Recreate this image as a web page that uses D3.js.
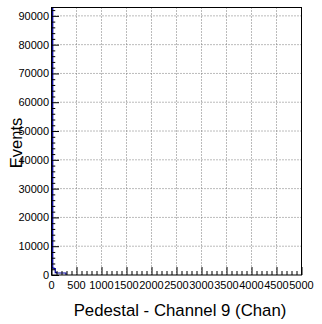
<!DOCTYPE html>
<html><head><meta charset="utf-8">
<script src="https://cdn.jsdelivr.net/npm/d3@7"></script>
<style>
html,body{margin:0;padding:0;background:#fff;}
svg{display:block;font-family:"Liberation Sans",Arial,Helvetica,sans-serif;}
</style></head>
<body>
<svg id="c" width="322" height="324"></svg>
<script>
// Histogram bins: lower edges (Chan) and contents (Events)
const binEdges = [0, 25, 50, 75, 100, 125, 150, 175, 200, 225, 250, 275, 290];
const binValues = [93000, 2400, 2200, 800, 700, 700, 700, 700, 700, 700, 700, 700];
const xTicks = [0, 500, 1000, 1500, 2000, 2500, 3000, 3500, 4000, 4500, 5000];
const yTicks = [0, 10000, 20000, 30000, 40000, 50000, 60000, 70000, 80000, 90000];
const xTitle = "Pedestal - Channel 9 (Chan)";
const yTitle = "Events";

const L = 51.5, R = 301.5, T = 7.5, B = 275;
const svg = d3.select("#c");
const x = d3.scaleLinear().domain([0, 5000]).range([L, R]);
const y = d3.scaleLinear().domain([0, 92900]).range([B, T]);

// grid
const g = svg.append("g");
g.selectAll("line.gx").data(xTicks.slice(1, -1)).join("line")
  .attr("x1", d => x(d)).attr("x2", d => x(d)).attr("y1", T).attr("y2", B)
  .attr("stroke", "#777").attr("stroke-width", 1).attr("stroke-dasharray", "1,2");
g.selectAll("line.gy").data(yTicks.slice(1)).join("line")
  .attr("x1", L).attr("x2", R).attr("y1", d => y(d)).attr("y2", d => y(d))
  .attr("stroke", "#777").attr("stroke-width", 1).attr("stroke-dasharray", "1,2");

// histogram
const pts = [[binEdges[0], 0]];
binValues.forEach((v, i) => { pts.push([binEdges[i], v]); pts.push([binEdges[i + 1], v]); });
pts.push([binEdges[binEdges.length - 1], 0]);
svg.append("clipPath").attr("id", "clip").append("rect")
  .attr("x", L).attr("y", T).attr("width", R - L).attr("height", B - T);
svg.append("path")
  .attr("clip-path", "url(#clip)")
  .attr("d", d3.line().x(d => x(d[0])).y(d => y(d[1]))(pts))
  .attr("fill", "none").attr("stroke", "#000099").attr("stroke-width", 1.2);

// frame
svg.append("rect").attr("x", L).attr("y", T).attr("width", R - L).attr("height", B - T)
  .attr("fill", "none").attr("stroke", "#000").attr("stroke-width", 1);

// x axis ticks (inside)
const xAxis = d3.axisTop(x).tickValues(xTicks).tickSize(8).tickFormat("");
const xa = svg.append("g").attr("transform", `translate(0,${B})`).call(xAxis);
xa.select(".domain").remove();
const xMinor = d3.range(0, 5001, 100).filter(v => v % 500 !== 0);
const xm = d3.axisTop(x).tickValues(xMinor).tickSize(4).tickFormat("");
const xma = svg.append("g").attr("transform", `translate(0,${B})`).call(xm);
xma.select(".domain").remove();
svg.append("g").selectAll("text").data(xTicks).join("text")
  .attr("x", d => x(d)).attr("y", 288.5).attr("text-anchor", "middle")
  .attr("font-size", 11).attr("fill", "#000").text(d => d);

// y axis ticks (inside)
const yAxis = d3.axisRight(y).tickValues(yTicks).tickSize(7.5).tickFormat("");
const ya = svg.append("g").attr("transform", `translate(${L},0)`).call(yAxis);
ya.select(".domain").remove();
const yMinor = d3.range(0, 92001, 2000).filter(v => v % 10000 !== 0);
const ym = d3.axisRight(y).tickValues(yMinor).tickSize(3.75).tickFormat("");
const yma = svg.append("g").attr("transform", `translate(${L},0)`).call(ym);
yma.select(".domain").remove();
svg.selectAll("g.tick line").attr("stroke", "#000");
svg.append("g").selectAll("text").data(yTicks).join("text")
  .attr("x", 49).attr("y", d => y(d) + 4).attr("text-anchor", "end")
  .attr("font-size", 11).attr("fill", "#000").text(d => d);

// titles
svg.append("text").attr("x", 180).attr("y", 316).attr("text-anchor", "middle")
  .attr("font-size", 16.8).attr("fill", "#000").text(xTitle);
svg.append("text").attr("transform", "translate(22,143) rotate(-90)")
  .attr("text-anchor", "middle").attr("font-size", 16.5).attr("fill", "#000").text(yTitle);
</script>
</body></html>
